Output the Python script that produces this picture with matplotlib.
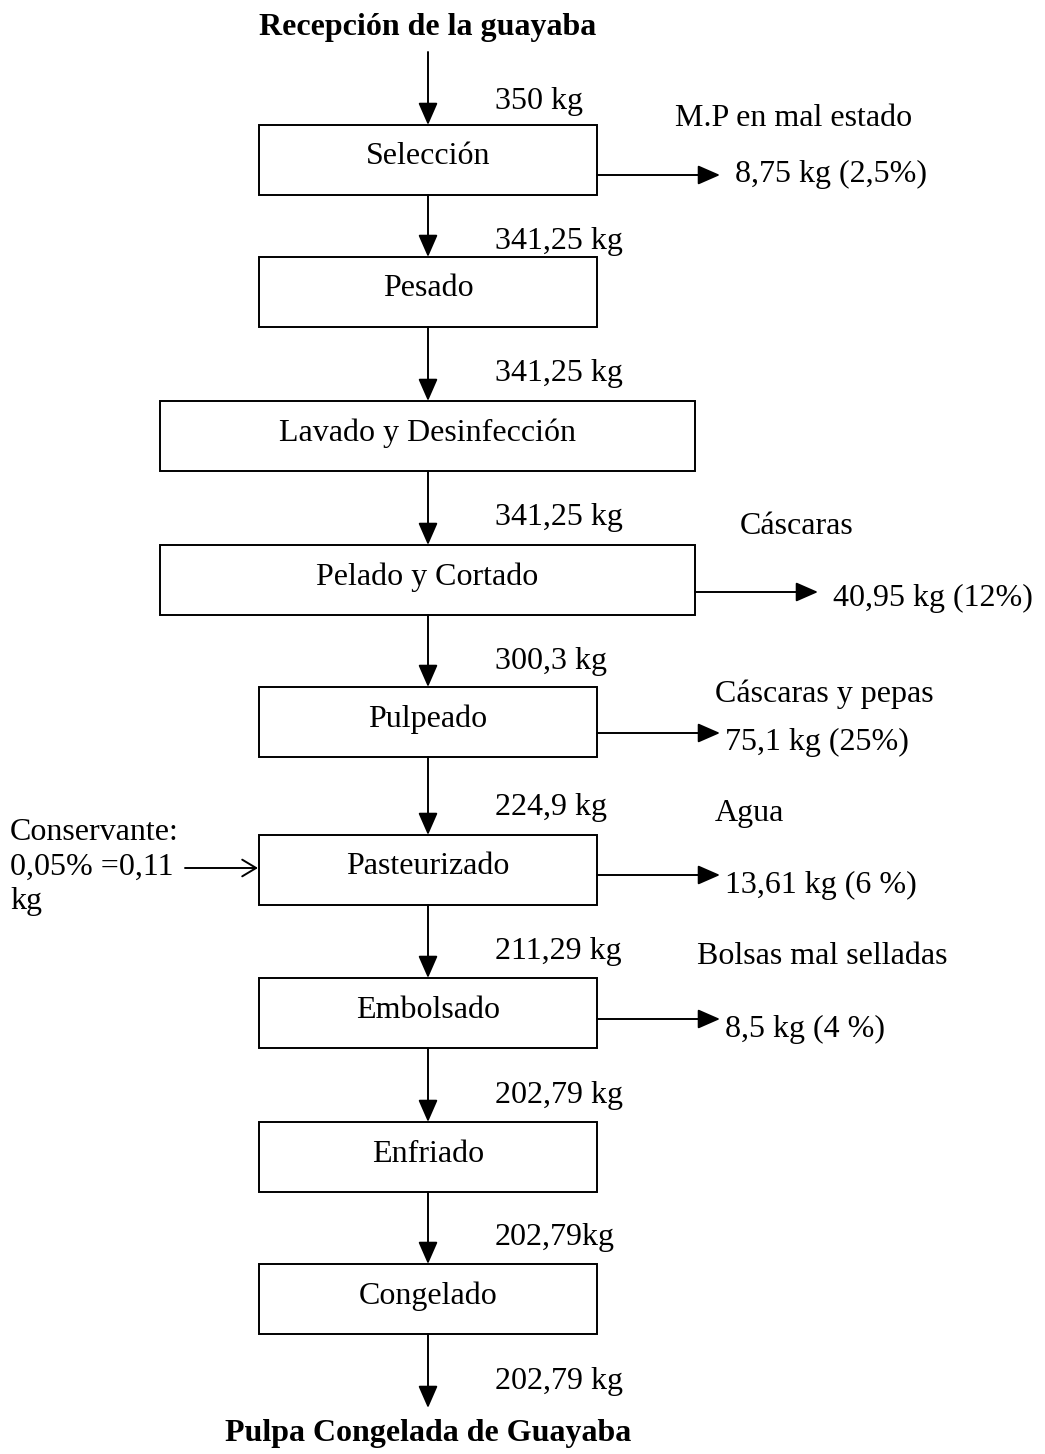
import matplotlib.pyplot as plt
from matplotlib.patches import Rectangle

plt.rcParams['font.family'] = ['Liberation Serif', 'DejaVu Serif']

title_top = 'Recepción de la guayaba'
title_bottom = 'Pulpa Congelada de Guayaba'

# process steps
steps = ['Selección', 'Pesado', 'Lavado y Desinfección', 'Pelado y Cortado',
         'Pulpeado', 'Pasteurizado', 'Embolsado', 'Enfriado', 'Congelado']

# mass entering each step and leaving the last
flows = ['350 kg', '341,25 kg', '341,25 kg', '341,25 kg', '300,3 kg',
         '224,9 kg', '211,29 kg', '202,79 kg', '202,79kg', '202,79 kg']

# losses: step index, label, amount
losses = [(0, 'M.P en mal estado', '8,75 kg (2,5%)'),
          (3, 'Cáscaras', '40,95 kg (12%)'),
          (4, 'Cáscaras y pepas', '75,1 kg (25%)'),
          (5, 'Agua', '13,61 kg (6 %)'),
          (6, 'Bolsas mal selladas', '8,5 kg (4 %)')]

additive = ['Conservante:', '0,05% =0,11', 'kg']

# layout in pixels
box_x = [(259, 597), (259, 597), (160, 695), (160, 695),
         (259, 597), (259, 597), (259, 597), (259, 597), (259, 597)]
box_y = [(125, 195), (257, 327), (401, 471), (545, 615),
         (687, 757), (835, 905), (978, 1048), (1122, 1192), (1264, 1334)]
flow_y = [101, 242, 374, 517, 661, 807, 951, 1095, 1238, 1381]
loss_label_pos = [(675, 118), (740, 526), (715, 694), (715, 814), (697, 957)]
loss_value_pos = [(735, 174), (833, 598), (725, 742), (725, 885), (725, 1029)]
loss_arrow_y = [175, 592, 733, 875, 1019]

W, H = 1045, 1454
fig = plt.figure(figsize=(W / 100, H / 100), dpi=100)
ax = fig.add_axes([0, 0, 1, 1])
ax.set_xlim(0, W)
ax.set_ylim(H, 0)
ax.axis('off')

fs = 23
cx = 428
arrow = dict(arrowstyle='-|>,head_length=0.8,head_width=0.35', color='black',
             lw=1.4, mutation_scale=17, shrinkA=0, shrinkB=0)

ax.text(cx, 27, title_top, ha='center', va='center', fontsize=fs, fontweight='bold')
ax.text(cx, 1434, title_bottom, ha='center', va='center', fontsize=fs, fontweight='bold')

for name, (x0, x1), (y0, y1) in zip(steps, box_x, box_y):
    ax.add_patch(Rectangle((x0, y0), x1 - x0, y1 - y0, fill=False, ec='black', lw=1.4))
    ax.text((x0 + x1) / 2, (y0 + y1) / 2 - 3, name, ha='center', va='center', fontsize=fs)

# vertical arrows
tops = [52] + [y1 for _, y1 in box_y]
bottoms = [y0 for y0, _ in box_y] + [1408]
for a, b, lab, ly in zip(tops, bottoms, flows, flow_y):
    ax.annotate('', xy=(cx, b), xytext=(cx, a), arrowprops=arrow)
    ax.text(495, ly, lab, ha='left', va='center', fontsize=fs)

# loss arrows
for (idx, lab, val), lp, vp, ay in zip(losses, loss_label_pos, loss_value_pos, loss_arrow_y):
    x1 = box_x[idx][1]
    ax.annotate('', xy=(x1 + 123, ay), xytext=(x1, ay), arrowprops=arrow)
    ax.text(lp[0], lp[1], lab, ha='left', va='center', fontsize=fs)
    ax.text(vp[0], vp[1], val, ha='left', va='center', fontsize=fs)

# additive
for i, t in enumerate(additive):
    ax.text(10, 832 + 35 * i, t, ha='left', va='center', fontsize=fs)
ax.annotate('', xy=(258, 868), xytext=(185, 868),
            arrowprops=dict(arrowstyle='->,head_length=0.5,head_width=0.3', color='black',
                            lw=1.4, mutation_scale=20, shrinkA=0, shrinkB=0))

fig.savefig('out.png', dpi=100)
